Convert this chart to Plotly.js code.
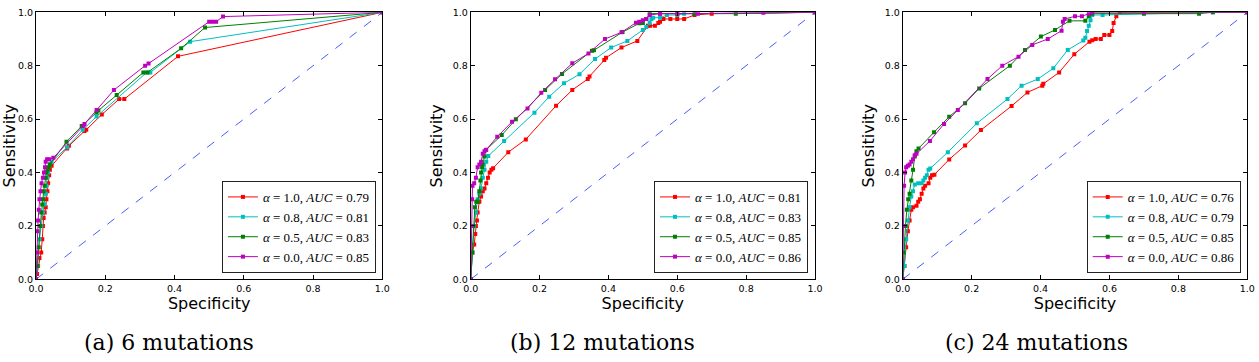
<!DOCTYPE html>
<html>
<head>
<meta charset="utf-8">
<script src="https://cdn.plot.ly/plotly-3.0.1.min.js"></script>
<style>
  html, body { margin: 0; padding: 0; background: #fff; }
  #rocPlot { width: 1259px; height: 362px; }
</style>
</head>
<body>
<div id="rocPlot"></div>
<script>
// ROC curves for three mutation counts, four alpha settings each
const alphas = ['1.0', '0.8', '0.5', '0.0'];
const aucA = ['0.79', '0.81', '0.83', '0.85'];
const aucB = ['0.81', '0.83', '0.85', '0.86'];
const aucC = ['0.76', '0.79', '0.85', '0.86'];
const captions = ['(a) 6 mutations', '(b) 12 mutations', '(c) 24 mutations'];
const tickVals = [0, 0.2, 0.4, 0.6, 0.8, 1.0];
const chanceX = [0, 1];
const chanceY = [0, 1];

// (a) 6 mutations
const a1x = [0,0.003,0.006,0.01,0.015,0.018,0.02,0.022,0.025,0.028,0.03,0.033,0.035,0.038,0.04,0.045,0.09,0.095,0.14,0.145,0.19,0.24,0.255,0.41,1.0];
const a1y = [0,0.02,0.05,0.08,0.1,0.15,0.2,0.23,0.25,0.27,0.3,0.33,0.36,0.39,0.41,0.425,0.49,0.5,0.555,0.56,0.617,0.675,0.675,0.835,1.0];
const a2x = [0,0.005,0.01,0.015,0.02,0.025,0.028,0.03,0.032,0.035,0.04,0.045,0.09,0.135,0.175,0.32,0.33,0.445,1.0];
const a2y = [0,0.05,0.15,0.2,0.25,0.28,0.32,0.35,0.38,0.4,0.43,0.44,0.495,0.56,0.61,0.775,0.775,0.89,1.0];
const a3x = [0,0.004,0.008,0.012,0.015,0.018,0.02,0.022,0.025,0.028,0.03,0.033,0.036,0.04,0.088,0.132,0.175,0.18,0.233,0.31,0.322,0.419,0.488,1.0];
const a3y = [0,0.05,0.12,0.2,0.25,0.28,0.3,0.33,0.35,0.38,0.4,0.41,0.42,0.43,0.515,0.574,0.625,0.632,0.69,0.775,0.775,0.865,0.943,1.0];
const a4x = [0,0.002,0.004,0.006,0.008,0.01,0.013,0.016,0.02,0.023,0.026,0.028,0.032,0.038,0.05,0.137,0.14,0.175,0.225,0.315,0.325,0.5,0.51,0.52,0.54,1.0];
const a4y = [0,0.1,0.18,0.22,0.26,0.3,0.33,0.36,0.38,0.4,0.42,0.44,0.45,0.45,0.455,0.575,0.582,0.634,0.709,0.8,0.808,0.965,0.965,0.965,0.984,1.0];

// (b) 12 mutations
const b1x = [0,0.005,0.01,0.013,0.015,0.018,0.02,0.025,0.03,0.035,0.04,0.045,0.05,0.055,0.06,0.065,0.109,0.16,0.248,0.295,0.34,0.345,0.388,0.393,0.438,0.484,0.515,0.521,0.535,0.545,0.55,0.56,0.58,0.6,0.62,0.65,0.7,1.0];
const b1y = [0,0.1,0.13,0.17,0.2,0.22,0.25,0.29,0.31,0.33,0.34,0.36,0.38,0.4,0.41,0.416,0.476,0.524,0.65,0.709,0.75,0.76,0.821,0.83,0.868,0.893,0.95,0.95,0.95,0.96,0.965,0.975,0.975,0.975,0.975,0.99,0.995,1.0];
const b2x = [0,0.005,0.01,0.015,0.02,0.025,0.03,0.035,0.04,0.045,0.051,0.097,0.185,0.228,0.271,0.316,0.361,0.408,0.455,0.5,0.51,0.52,0.525,0.53,0.55,0.57,0.6,0.62,1.0];
const b2y = [0,0.1,0.2,0.25,0.3,0.32,0.34,0.38,0.41,0.44,0.462,0.518,0.624,0.684,0.734,0.768,0.825,0.868,0.893,0.934,0.945,0.96,0.975,0.98,0.98,0.99,0.99,0.995,1.0];
const b3x = [0,0.004,0.008,0.012,0.016,0.02,0.025,0.028,0.03,0.033,0.035,0.04,0.044,0.09,0.131,0.216,0.265,0.352,0.358,0.441,0.49,0.5,0.51,0.52,0.55,0.6,0.65,0.77,1.0];
const b3y = [0,0.1,0.2,0.27,0.29,0.29,0.33,0.37,0.4,0.42,0.43,0.46,0.484,0.54,0.599,0.709,0.769,0.856,0.858,0.926,0.959,0.96,0.975,0.995,0.995,0.995,0.995,0.995,1.0];
const b4x = [0,0.002,0.004,0.005,0.01,0.015,0.02,0.025,0.03,0.035,0.04,0.045,0.077,0.12,0.165,0.205,0.245,0.295,0.342,0.39,0.438,0.48,0.49,0.5,0.51,0.52,0.55,0.6,0.66,0.85,1.0];
const b4y = [0,0.2,0.3,0.35,0.36,0.38,0.42,0.43,0.44,0.47,0.48,0.485,0.534,0.59,0.64,0.699,0.749,0.809,0.846,0.9,0.925,0.961,0.965,0.97,0.975,0.99,0.995,0.995,0.995,0.998,1.0];

// (c) 24 mutations
const c1x = [0,0.005,0.01,0.015,0.02,0.025,0.03,0.04,0.045,0.05,0.055,0.06,0.065,0.075,0.08,0.085,0.092,0.135,0.181,0.227,0.316,0.362,0.405,0.408,0.454,0.498,0.542,0.55,0.56,0.575,0.585,0.6,0.608,0.612,0.62,0.63,0.7,1.0];
const c1y = [0,0.05,0.12,0.18,0.22,0.26,0.27,0.275,0.29,0.3,0.32,0.34,0.35,0.36,0.38,0.39,0.392,0.449,0.501,0.559,0.649,0.7,0.725,0.732,0.775,0.843,0.89,0.895,0.9,0.9,0.915,0.915,0.93,0.96,0.985,1.0,1.0,1.0];
const c2x = [0,0.005,0.01,0.015,0.02,0.025,0.03,0.035,0.045,0.055,0.06,0.065,0.07,0.075,0.08,0.131,0.215,0.304,0.345,0.392,0.437,0.479,0.524,0.53,0.535,0.54,0.545,0.55,0.58,0.9,1.0];
const c2y = [0,0.05,0.15,0.22,0.27,0.31,0.33,0.355,0.36,0.36,0.37,0.38,0.39,0.41,0.415,0.476,0.584,0.675,0.725,0.75,0.79,0.859,0.894,0.905,0.93,0.95,0.97,0.99,0.99,1.0,1.0];
const c3x = [0,0.003,0.008,0.012,0.016,0.02,0.025,0.03,0.035,0.04,0.046,0.091,0.135,0.181,0.222,0.311,0.355,0.401,0.442,0.484,0.53,0.54,0.55,0.7,0.86,0.9,1.0];
const c3y = [0,0.1,0.2,0.26,0.3,0.32,0.37,0.41,0.46,0.48,0.49,0.551,0.609,0.659,0.715,0.8,0.859,0.909,0.934,0.968,0.968,0.985,0.995,0.995,0.995,1.0,1.0];
const c4x = [0,0.002,0.004,0.007,0.01,0.015,0.02,0.025,0.03,0.035,0.04,0.079,0.12,0.16,0.246,0.289,0.336,0.376,0.421,0.461,0.465,0.47,0.5,0.52,0.54,0.55,0.7,1.0];
const c4y = [0,0.2,0.35,0.4,0.42,0.425,0.43,0.44,0.45,0.465,0.47,0.518,0.582,0.634,0.75,0.8,0.834,0.878,0.9,0.931,0.965,0.975,0.985,0.985,0.995,1.0,1.0,1.0];

const colors = ['#ff0000', '#00bfbf', '#008000', '#bf00bf'];

const panels = [
  {xs: [a1x, a2x, a3x, a4x], ys: [a1y, a2y, a3y, a4y], auc: aucA},
  {xs: [b1x, b2x, b3x, b4x], ys: [b1y, b2y, b3y, b4y], auc: aucB},
  {xs: [c1x, c2x, c3x, c4x], ys: [c1y, c2y, c3y, c4y], auc: aucC},
];

const xDomains = [[0.0286, 0.3037], [0.3739, 0.6473], [0.7170, 0.9907]];
const yDomain = [0.2285, 0.966];
const legendRight = [0.2986, 0.6418, 0.9855];
const captionX = [0.1342, 0.4786, 0.8229];

var traces = [];
panels.forEach(function(p, i) {
  var n = i === 0 ? '' : String(i + 1);
  traces.push({
    x: chanceX, y: chanceY,
    xaxis: 'x' + n, yaxis: 'y' + n,
    mode: 'lines',
    line: {color: 'rgba(30,50,255,0.8)', width: 1, dash: 'dash'},
    showlegend: false,
    hoverinfo: 'skip'
  });
  for (var k = 0; k < 4; k++) {
    traces.push({
      x: p.xs[k], y: p.ys[k],
      xaxis: 'x' + n, yaxis: 'y' + n,
      mode: 'lines+markers',
      line: {color: colors[k], width: 1},
      marker: {color: colors[k], size: 4, symbol: 'square'},
      name: '<i>α</i> = ' + alphas[k] + ', <i>AUC</i> = ' + p.auc[k],
      legend: 'legend' + n
    });
  }
});

function axisStyle(domain, anchor, titleText, standoff) {
  return {
    domain: domain,
    anchor: anchor,
    range: [0, 1],
    tickvals: tickVals,
    tickformat: '.1f',
    ticks: 'inside',
    ticklen: 4,
    tickcolor: '#000',
    mirror: 'ticks',
    showline: true,
    linecolor: '#000',
    linewidth: 1,
    showgrid: false,
    zeroline: false,
    tickfont: {family: 'DejaVu Sans', size: 9.5, color: '#000'},
    title: {text: titleText, font: {family: 'DejaVu Sans', size: 16, color: '#000'}, standoff: standoff}
  };
}

var layout = {
  width: 1259,
  height: 362,
  margin: {l: 0, r: 0, t: 0, b: 0},
  paper_bgcolor: '#fff',
  plot_bgcolor: '#fff',
  annotations: [],
  hovermode: false
};

for (var i = 0; i < 3; i++) {
  var n = i === 0 ? '' : String(i + 1);
  layout['xaxis' + n] = axisStyle(xDomains[i], 'y' + n, 'Specificity', 5);
  layout['yaxis' + n] = axisStyle(yDomain, 'x' + n, 'Sensitivity', 6);
  layout['legend' + n] = {
    x: legendRight[i], xanchor: 'right',
    y: 0.2459, yanchor: 'bottom',
    bgcolor: '#fff',
    bordercolor: '#222',
    borderwidth: 1,
    font: {family: 'Liberation Serif', size: 13, color: '#000'},
    itemwidth: 30
  };
  layout.annotations.push({
    text: captions[i],
    xref: 'paper', yref: 'paper',
    x: captionX[i], y: 0.0525,
    xanchor: 'center', yanchor: 'middle',
    showarrow: false,
    font: {family: 'DejaVu Serif', size: 22, color: '#000'}
  });
}

Plotly.newPlot('rocPlot', traces, layout, {staticPlot: true});
</script>
</body>
</html>
